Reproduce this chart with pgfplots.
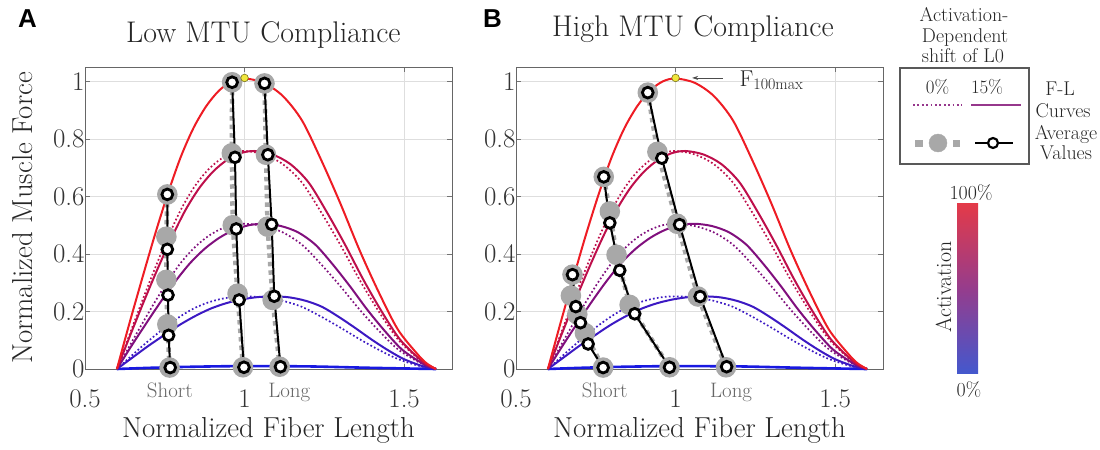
\documentclass[border=0pt]{standalone}
\usepackage{pgfplots}
\pgfplotsset{compat=1.18}
\usepackage{pgfplotstable}
\usepackage{fontspec}
\newfontfamily\arialf{Liberation Sans}
\usetikzlibrary{arrows.meta}

\definecolor{cR}{RGB}{238,28,36}
\definecolor{c75}{RGB}{190,15,75}
\definecolor{c50}{RGB}{128,15,125}
\definecolor{c25}{RGB}{60,25,195}
\definecolor{c0}{RGB}{25,25,225}
\definecolor{grayM}{RGB}{168,168,168}
\definecolor{legpurple}{RGB}{150,55,140}
\definecolor{cbTop}{RGB}{228,58,72}
\definecolor{cbMid}{RGB}{150,60,140}
\definecolor{cbBot}{RGB}{68,88,205}
\definecolor{yel}{RGB}{240,230,60}

% F-L curves without shift (red = 100%, dotted = 75/50/25%)
\pgfplotstableread{
x r d75 d50 d25
0.60 0 0 0 0
0.64 0.162 0.121 0.081 0.040
0.68 0.318 0.239 0.159 0.080
0.72 0.470 0.352 0.235 0.117
0.76 0.611 0.458 0.306 0.153
0.80 0.737 0.553 0.369 0.184
0.84 0.838 0.629 0.419 0.210
0.88 0.914 0.686 0.457 0.229
0.92 0.968 0.726 0.484 0.242
0.96 1.000 0.750 0.500 0.250
1.00 1.010 0.758 0.505 0.2525
1.06 0.995 0.746 0.497 0.249
1.12 0.949 0.712 0.475 0.237
1.18 0.864 0.648 0.432 0.216
1.24 0.727 0.545 0.364 0.182
1.30 0.576 0.432 0.288 0.144
1.36 0.414 0.311 0.207 0.104
1.42 0.268 0.201 0.134 0.067
1.48 0.138 0.104 0.069 0.035
1.54 0.054 0.040 0.027 0.013
1.57 0.020 0.015 0.010 0.005
1.60 0 0 0 0
}\tabDot

\pgfplotstableread{
x y
0.600 0
0.643 0.121
0.686 0.239
0.729 0.352
0.772 0.458
0.815 0.553
0.858 0.629
0.901 0.686
0.944 0.726
0.987 0.750
1.030 0.758
1.087 0.746
1.144 0.712
1.201 0.648
1.258 0.545
1.315 0.432
1.372 0.311
1.429 0.201
1.486 0.104
1.543 0.040
1.5715 0.015
1.600 0
}\tabSa

\pgfplotstableread{
x y
0.600 0
0.646 0.081
0.692 0.159
0.738 0.235
0.784 0.306
0.830 0.369
0.876 0.419
0.922 0.457
0.968 0.484
1.014 0.500
1.060 0.505
1.114 0.497
1.168 0.475
1.222 0.432
1.276 0.364
1.330 0.288
1.384 0.207
1.438 0.134
1.492 0.069
1.546 0.027
1.573 0.010
1.600 0
}\tabSb

\pgfplotstableread{
x y
0.600 0
0.649 0.040
0.698 0.080
0.747 0.117
0.796 0.153
0.845 0.184
0.894 0.210
0.943 0.229
0.992 0.242
1.041 0.250
1.090 0.2525
1.141 0.249
1.192 0.237
1.243 0.216
1.294 0.182
1.345 0.144
1.396 0.104
1.447 0.067
1.498 0.035
1.549 0.013
1.5745 0.005
1.600 0
}\tabSc

\pgfplotstableread{
x y
0.60 0
0.70 0.004
0.80 0.007
0.90 0.009
1.00 0.010
1.20 0.009
1.40 0.004
1.60 0
}\tabZero

\pgfplotsset{
  panel/.style={scale only axis, width=367bp, height=302bp,
    xmin=0.5, xmax=1.65, ymin=0, ymax=1.05,
    xtick={0.5,1,1.5}, xticklabels={0.5,1,1.5},
    ytick={0,0.2,0.4,0.6,0.8,1}, yticklabels={0,0.2,0.4,0.6,0.8,1},
    grid=major, major grid style={black!13, line width=0.7bp},
    axis line style={black!60, line width=0.9bp},
    tick style={black!55, line width=0.8bp}, major tick length=5bp, tick align=inside,
    clip=false,
    ticklabel style={font=\fontsize{27}{27}\selectfont, text=black!80},
    xticklabel style={yshift=-17bp},
    yticklabel style={xshift=3bp},
    xlabel style={at={(axis description cs:0.5,-0.228)}, anchor=base, font=\fontsize{29}{29}\selectfont, text=black!85},
    ylabel style={at={(axis description cs:-0.144,0.5)}, anchor=base, font=\fontsize{29}{29}\selectfont, text=black!85},
  },
  grayline/.style={draw=grayM, line width=4.5bp, dash pattern=on 4.5bp off 4bp, mark=*, mark size=8bp, mark options={solid, fill=grayM, draw=none}},
  blackline/.style={black, line width=2bp, mark=*, mark size=5.4bp, mark options={solid, fill=white, draw=black, line width=2.8bp}},
  dotc/.style={line width=1.7bp, dash pattern=on 1.7bp off 2.3bp, smooth, tension=0.5},
  solc/.style={line width=2bp, smooth, tension=0.5},
}

\newcommand{\drawcurves}{%
  \addplot[c0, line width=2.6bp, smooth] table[x=x,y=y]{\tabZero};
  \addplot[c25, dotc] table[x=x,y=d25]{\tabDot};
  \addplot[c50, dotc] table[x=x,y=d50]{\tabDot};
  \addplot[c75, dotc] table[x=x,y=d75]{\tabDot};
  \addplot[c25, solc] table[x=x,y=y]{\tabSc};
  \addplot[c50, solc] table[x=x,y=y]{\tabSb};
  \addplot[c75, solc] table[x=x,y=y]{\tabSa};
  \addplot[cR, solc] table[x=x,y=r]{\tabDot};
}

\begin{document}
\begin{tikzpicture}
\useasboundingbox (0,0) rectangle (1100bp,-450bp);

% ---------------- Panel A ----------------
\begin{axis}[panel, at={(85bp,-369bp)}, anchor=south west,
  title={Low MTU Compliance},
  title style={at={(axis description cs:0.486,1.062)}, anchor=base, font=\fontsize{30}{30}\selectfont, text=black!85},
  xlabel={Normalized Fiber Length}, ylabel={Normalized Muscle Force}]
\drawcurves
% 0% shift (gray)
\addplot[grayline] coordinates {(0.758,0.607)(0.755,0.46)(0.755,0.31)(0.758,0.155)(0.765,0.005)};
\addplot[grayline] coordinates {(0.961,0.997)(0.960,0.75)(0.963,0.50)(0.978,0.262)(0.995,0.006)};
\addplot[grayline] coordinates {(1.0625,0.993)(1.067,0.745)(1.072,0.495)(1.088,0.240)(1.110,0.008)};
% 15% shift (black)
\addplot[blackline] coordinates {(0.758,0.607)(0.758,0.416)(0.760,0.257)(0.762,0.117)(0.767,0.005)};
\addplot[blackline] coordinates {(0.961,0.997)(0.970,0.736)(0.974,0.487)(0.983,0.240)(0.998,0.006)};
\addplot[blackline] coordinates {(1.0625,0.993)(1.073,0.745)(1.085,0.503)(1.093,0.253)(1.1125,0.008)};
\addplot[only marks, mark=*, mark size=3.8bp, mark options={fill=yel, draw=black!50!yel, line width=0.6bp}] coordinates {(1.0,1.012)};
\node[anchor=base, font=\fontsize{21}{21}\selectfont, text=black!60] at (axis cs:0.766,-0.098) {Short};
\node[anchor=base, font=\fontsize{21}{21}\selectfont, text=black!60] at (axis cs:1.14,-0.098) {Long};
\end{axis}

% ---------------- Panel B ----------------
\begin{axis}[panel, at={(516bp,-369bp)}, anchor=south west,
  title={High MTU Compliance},
  title style={at={(axis description cs:0.482,1.080)}, anchor=base, font=\fontsize{30}{30}\selectfont, text=black!85},
  xlabel={Normalized Fiber Length}]
\drawcurves
\addplot[grayline] coordinates {(0.677,0.328)(0.672,0.255)(0.692,0.19)(0.716,0.125)(0.773,0.005)};
\addplot[grayline] coordinates {(0.775,0.668)(0.794,0.548)(0.815,0.397)(0.856,0.223)(0.981,0.006)};
\addplot[grayline] coordinates {(0.913,0.961)(0.943,0.755)(1.005,0.505)(1.070,0.252)(1.158,0.006)};
\addplot[blackline] coordinates {(0.677,0.328)(0.6875,0.217)(0.702,0.161)(0.726,0.087)(0.773,0.005)};
\addplot[blackline] coordinates {(0.775,0.668)(0.794,0.508)(0.825,0.343)(0.872,0.192)(0.981,0.006)};
\addplot[blackline] coordinates {(0.913,0.961)(0.957,0.733)(1.0125,0.502)(1.077,0.252)(1.160,0.008)};
\addplot[only marks, mark=*, mark size=3.8bp, mark options={fill=yel, draw=black!50!yel, line width=0.6bp}] coordinates {(1.0,1.012)};
\draw[black!70, line width=0.8bp, -{Stealth[length=6bp,width=4bp]}] (axis cs:1.148,1.012) -- (axis cs:1.052,1.012);
\node[anchor=base west, font=\fontsize{23}{23}\selectfont, text=black!85, inner sep=0pt] at (axis cs:1.2,0.983) {F\textsubscript{100max}};
\node[anchor=base, font=\fontsize{21}{21}\selectfont, text=black!60] at (axis cs:0.778,-0.098) {Short};
\node[anchor=base, font=\fontsize{21}{21}\selectfont, text=black!60] at (axis cs:1.174,-0.098) {Long};
\end{axis}

% ---------------- Legend ----------------
\begin{axis}[at={(900bp,-164bp)}, anchor=south west, scale only axis, width=129bp, height=96bp,
  xmin=0, xmax=129, ymin=0, ymax=96, xtick=\empty, ytick=\empty,
  axis line style={black!65, line width=1.3bp}, clip=false]
\addplot[legpurple, line width=1.8bp, dash pattern=on 1.8bp off 2.6bp] coordinates {(13,59)(62,59)};
\addplot[legpurple, line width=2.5bp] coordinates {(71,59)(121,59)};
\addplot[grayM, line width=7bp] coordinates {(15,21)(23,21)};
\addplot[grayM, line width=7bp] coordinates {(53,21)(60,21)};
\addplot[only marks, mark=*, mark size=9bp, grayM] coordinates {(38,21)};
\addplot[black, line width=2bp, mark=*, mark indices={2}, mark size=5bp, mark options={fill=white, draw=black, line width=2.2bp}] coordinates {(75,21)(93,21)(113,21)};
\node[font=\fontsize{19}{19}\selectfont, text=black!85] at (axis cs:37.5,77) {0\%};
\node[font=\fontsize{19}{19}\selectfont, text=black!85] at (axis cs:87,77) {15\%};
\end{axis}

\begin{scope}[every node/.style={font=\fontsize{20}{20}\selectfont, text=black!85, inner sep=0pt}]
\node[anchor=base] at (964bp,-21bp) {Activation-};
\node[anchor=base] at (965bp,-42bp) {Dependent};
\node[anchor=base] at (963bp,-62bp) {shift of L0};
\node[anchor=base] at (1060bp,-95bp) {F-L};
\node[anchor=base] at (1063bp,-117bp) {Curves};
\node[anchor=base] at (1066bp,-139bp) {Average};
\node[anchor=base] at (1066bp,-159bp) {Values};
\node[anchor=base] at (971bp,-199bp) {100\%};
\node[anchor=base] at (969bp,-396bp) {0\%};
\end{scope}

% colour bar
\shade[top color=cbTop, bottom color=cbBot, middle color=cbMid] (957bp,-203bp) rectangle (978bp,-373bp);
\node[rotate=90, font=\fontsize{22}{22}\selectfont, text=black!85, inner sep=0pt] at (943.5bp,-287bp) {Activation};

% panel letters
\node[anchor=base west, font=\arialf\bfseries\fontsize{26}{26}\selectfont, inner sep=0pt] at (18bp,-27bp) {A};
\node[anchor=base west, font=\arialf\bfseries\fontsize{26}{26}\selectfont, inner sep=0pt] at (483bp,-27bp) {B};
\end{tikzpicture}
\end{document}
